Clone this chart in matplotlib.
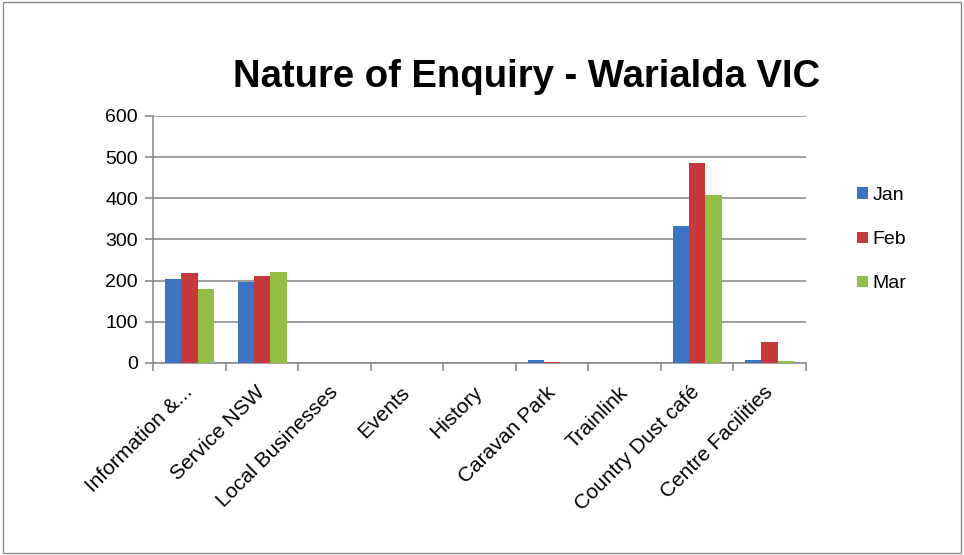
import matplotlib
matplotlib.use("Agg")
import matplotlib.pyplot as plt
import numpy as np
from matplotlib.patches import Rectangle

categories = ["Information &...", "Service NSW", "Local Businesses", "Events", "History",
              "Caravan Park", "Trainlink", "Country Dust café", "Centre Facilities"]
jan = [203, 196, 0, 0, 0, 7, 0, 333, 8]
feb = [219, 212, 0, 0, 0, 2, 0, 485, 50]
mar = [180, 221, 0, 0, 0, 0, 0, 407, 6]
series_names = ["Jan", "Feb", "Mar"]
colors = ["#3b74c4", "#c8383a", "#94bf45"]

plt.rcParams['font.family'] = ['Liberation Sans', 'DejaVu Sans']

fig = plt.figure(figsize=(9.64, 5.55), dpi=100)
fig.patches.append(Rectangle((0.003, 0.004), 0.994, 0.992, transform=fig.transFigure,
                             fill=False, edgecolor="#8a8a8a", linewidth=1))
ax = fig.add_axes([0.159, 0.346, 0.677, 0.445])

x = np.arange(len(categories))
w = 0.225
for i, (vals, name, c) in enumerate(zip([jan, feb, mar], series_names, colors)):
    ax.bar(x + (i - 1) * w, vals, width=w, color=c, label=name, zorder=3, linewidth=0)

ax.set_xlim(-0.5, len(categories) - 0.5)
ax.set_ylim(0, 600)
ax.set_yticks(range(0, 601, 100))
ax.yaxis.grid(True, color="#8c8c8c", linewidth=1.2, zorder=0)
for s in ["top", "right"]:
    ax.spines[s].set_visible(False)
for s in ["left", "bottom"]:
    ax.spines[s].set_color("#8c8c8c")
    ax.spines[s].set_linewidth(1.2)
ax.set_xticks(x)
ax.set_xticklabels(categories, rotation=45, ha="right", va="center",
                   rotation_mode="anchor", fontsize=15)
ax.tick_params(axis="x", length=0, pad=19)
ax.set_xticks(np.arange(-0.5, len(categories), 1), minor=True)
ax.tick_params(axis="x", which="minor", length=6, color="#8c8c8c", width=1.2)
ax.tick_params(axis="y", length=6, color="#8c8c8c", width=1.2, labelsize=14, pad=5)

fig.text(0.546, 0.862, "Nature of Enquiry - Warialda VIC", ha="center", va="center",
         fontsize=27.5, fontweight="bold")
fig.legend(loc="center left", bbox_to_anchor=(0.889, 0.568), bbox_transform=fig.transFigure,
           frameon=False, fontsize=14, borderpad=0, borderaxespad=0,
           handlelength=0.55, handleheight=0.55, handletextpad=0.25, labelspacing=1.4)

fig.savefig("out.png", dpi=100)
